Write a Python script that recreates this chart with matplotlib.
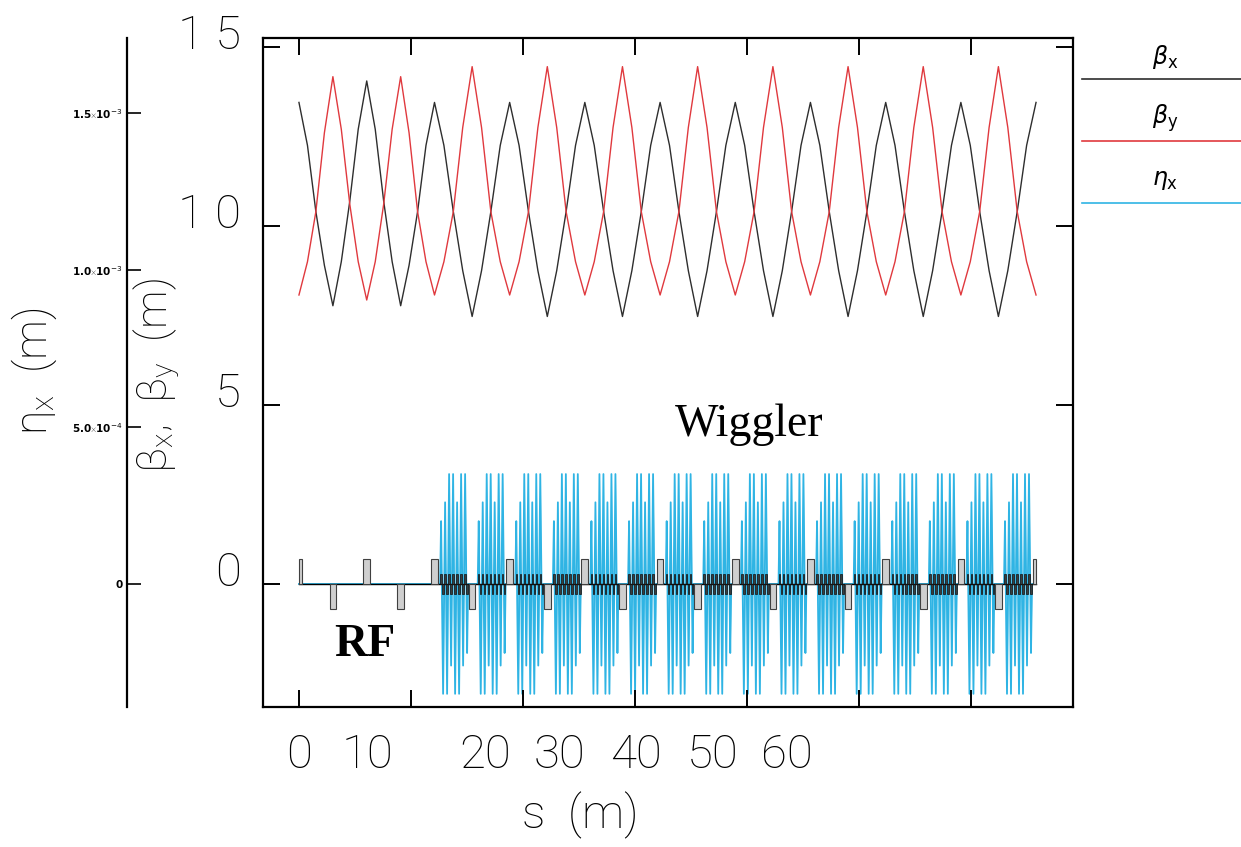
import matplotlib
matplotlib.use('Agg')
import matplotlib.pyplot as plt
from matplotlib.patches import Rectangle
from matplotlib.lines import Line2D
from matplotlib.transforms import ScaledTranslation, blended_transform_factory

# beta functions (m), sampled every quarter of a half cell
s_beta = [0.00, 0.76, 1.51, 2.27, 3.03, 3.78, 4.54, 5.29, 6.05,
          6.81, 7.56, 8.32, 9.08, 9.83, 10.59, 11.34, 12.10,
          12.94, 13.78, 14.62, 15.46, 16.30, 17.13, 17.97, 18.81,
          19.65, 20.49, 21.33, 22.17, 23.01, 23.85, 24.69, 25.52,
          26.36, 27.20, 28.04, 28.88, 29.72, 30.56, 31.40, 32.24,
          33.08, 33.92, 34.76, 35.59, 36.43, 37.27, 38.11, 38.95,
          39.79, 40.63, 41.47, 42.31, 43.15, 43.98, 44.82, 45.66,
          46.50, 47.34, 48.18, 49.02, 49.86, 50.70, 51.54, 52.38,
          53.21, 54.05, 54.89, 55.73, 56.57, 57.41, 58.25, 59.09,
          59.93, 60.77, 61.61, 62.44, 63.28, 64.12, 64.96, 65.80]
beta_x = [13.45, 12.25, 10.4, 8.9, 7.77, 9.0, 10.7, 12.7, 14.05,
          12.7, 10.7, 9.0, 7.77, 8.9, 10.4, 12.25, 13.45,
          12.25, 10.4, 8.75, 7.47, 8.75, 10.4, 12.25, 13.45,
          12.25, 10.4, 8.75, 7.47, 8.75, 10.4, 12.25, 13.45,
          12.25, 10.4, 8.75, 7.47, 8.75, 10.4, 12.25, 13.45,
          12.25, 10.4, 8.75, 7.47, 8.75, 10.4, 12.25, 13.45,
          12.25, 10.4, 8.75, 7.47, 8.75, 10.4, 12.25, 13.45,
          12.25, 10.4, 8.75, 7.47, 8.75, 10.4, 12.25, 13.45,
          12.25, 10.4, 8.75, 7.47, 8.75, 10.4, 12.25, 13.45,
          12.25, 10.4, 8.75, 7.47, 8.75, 10.4, 12.25, 13.45]
beta_y = [8.07, 9.0, 10.4, 12.6, 14.17, 12.7, 10.6, 9.0, 7.93,
          9.0, 10.6, 12.7, 14.17, 12.6, 10.4, 9.0, 8.07,
          9.0, 10.4, 12.75, 14.45, 12.75, 10.4, 9.0, 8.07,
          9.0, 10.4, 12.75, 14.45, 12.75, 10.4, 9.0, 8.07,
          9.0, 10.4, 12.75, 14.45, 12.75, 10.4, 9.0, 8.07,
          9.0, 10.4, 12.75, 14.45, 12.75, 10.4, 9.0, 8.07,
          9.0, 10.4, 12.75, 14.45, 12.75, 10.4, 9.0, 8.07,
          9.0, 10.4, 12.75, 14.45, 12.75, 10.4, 9.0, 8.07,
          9.0, 10.4, 12.75, 14.45, 12.75, 10.4, 9.0, 8.07,
          9.0, 10.4, 12.75, 14.45, 12.75, 10.4, 9.0, 8.07]

# quadrupole centres, +1 = drawn above the axis
quad_s = [0.00, 3.03, 6.05, 9.08, 12.10, 15.46, 18.81, 22.17, 25.52,
          28.88, 32.24, 35.59, 38.95, 42.31, 45.66, 49.02, 52.38,
          55.73, 59.09, 62.44, 65.80]
quad_sign = [1, -1, 1, -1, 1, -1, 1, -1, 1, -1, 1,
             -1, 1, -1, 1, -1, 1, -1, 1, -1, 1]

# dispersion swing at each wiggler pole (m), same in every wiggler
eta_poles = [0.20e-3, 0.35e-3, 0.26e-3, 0.35e-3, 0.35e-3, 0.26e-3, 0.35e-3,
             0.35e-3, 0.26e-3, 0.35e-3, 0.35e-3, 0.26e-3, 0.35e-3, 0.22e-3]
wig_from = 4   # first quad index followed by a wiggler

x_ticks = [0, 10, 20, 30, 40, 50, 60]
x_tick_text = ['0', '10', '20', '30', '40', '50', '60']
x_tick_text_at = [0, 6.1, 16.6, 23.3, 30.1, 36.9, 43.6]
y_ticks = [0, 5, 10, 15]
y_tick_text = ['0', '5', '1 0', '1 5']
eta_ticks = [0, 0.5e-3, 1.0e-3, 1.5e-3]
eta_tick_text = ['0', r'5.0$\times$10$^{\mathbf{-4}}$',
                 r'1.0$\times$10$^{\mathbf{-3}}$',
                 r'1.5$\times$10$^{\mathbf{-3}}$']

# light Roboto for plain math text, DejaVu for greek and \mathbf
plt.rcParams['mathtext.fontset'] = 'custom'
plt.rcParams['mathtext.rm'] = 'Roboto:light'
plt.rcParams['mathtext.it'] = 'DejaVu Sans:italic'
plt.rcParams['mathtext.bf'] = 'DejaVu Sans'
thin = dict(family='Roboto', weight='light')
BX, BY, ETA = '#2e2e2e', '#e0393e', '#2fb4e4'

fig = plt.figure(figsize=(12.41, 8.47), dpi=100)
W, H = 1241, 847
ax = fig.add_axes([263 / W, 1 - 707 / H, (1073 - 263) / W, (707 - 38) / H])
ax.set_xlim(-3.21, 69.1)
ax.set_ylim(-3.44, 15.25)

# dispersion on its own axis, drawn further left
ax2 = ax.twinx()
ax2.set_ylim(-0.392e-3, 1.739e-3)
ax.set_zorder(ax2.get_zorder() + 1)
ax.patch.set_visible(False)
for side in ['right', 'top', 'bottom']:
    ax2.spines[side].set_visible(False)
ax2.spines['left'].set_position(('axes', -0.168))
ax2.spines['left'].set_linewidth(1.6)
ax2.yaxis.tick_left()
ax2.set_yticks(eta_ticks)
ax2.set_yticklabels(eta_tick_text, fontsize=7.5, fontweight='bold')
ax2.tick_params(axis='y', direction='in', length=10, width=1.2, pad=3)

# eta: zero in the RF straight, oscillating inside each wiggler
half = len(eta_poles)
eta_s, eta_v = [0.0], [0.0]
for i in range(wig_from, len(quad_s) - 1):
    a, b = quad_s[i] + 0.5, quad_s[i + 1] - 0.36
    step = (b - a) / half
    eta_s.append(a)
    eta_v.append(0.0)
    for k, amp in enumerate(eta_poles):
        eta_s.append(a + (k + 0.5) * step)
        eta_v.append(amp if k % 2 == 0 else -amp)
    eta_s.append(b)
    eta_v.append(0.0)
eta_s.append(quad_s[-1])
eta_v.append(0.0)
ax2.fill_between(eta_s, eta_v, 0, color='#92dcf4', lw=0)
ax2.plot(eta_s, eta_v, color=ETA, lw=1.3)

# beam line and magnets
ax.plot([quad_s[0], quad_s[-1]], [0, 0], color='black', lw=1.0, zorder=3)
for s, sg in zip(quad_s, quad_sign):
    x0 = max(s - 0.3, quad_s[0])
    x1 = min(s + 0.3, quad_s[-1])
    ax.add_patch(Rectangle((x0, 0), x1 - x0, 0.7 * sg, facecolor='#cfcfcf',
                           edgecolor='#404040', lw=0.8, zorder=4))
for i in range(wig_from, len(quad_s) - 1):
    a, b = quad_s[i] + 0.5, quad_s[i + 1] - 0.36
    step = (b - a) / half
    for k in range(half):
        h = 0.27 if k % 2 == 0 else -0.27
        ax.add_patch(Rectangle((a + (k + 0.12) * step, 0), 0.76 * step, h,
                               facecolor='#3c3c3c', edgecolor='#111111',
                               lw=0.5, zorder=4))

ax.plot(s_beta, beta_x, color=BX, lw=1.0, zorder=5)
ax.plot(s_beta, beta_y, color=BY, lw=1.0, zorder=5)

for sp in ax.spines.values():
    sp.set_linewidth(1.6)
ax.set_xticks(x_ticks)
ax.set_xticklabels([])
ax.set_yticks(y_ticks)
ax.set_yticklabels(y_tick_text, fontsize=34, **thin)
ax.tick_params(direction='in', length=12, width=1.4, top=True, right=True)
ax.tick_params(axis='y', pad=16)
for lab in ax.get_yticklabels():
    lab.set_transform(lab.get_transform() +
                      ScaledTranslation(0, 0.15, fig.dpi_scale_trans))

below = blended_transform_factory(ax.transData, ax.transAxes)
for pos, txt in zip(x_tick_text_at, x_tick_text):
    ax.text(pos, -0.072, txt, transform=below, ha='center', va='center',
            fontsize=34, **thin)

fig.text(580 / W, 1 - 815 / H, 's  (m)', ha='center', va='center',
         fontsize=34, **thin)
fig.text(157 / W, 1 - 376 / H, r'β$_{\mathrm{x}}$,  β$_{\mathrm{y}}$  (m)',
         rotation=90, ha='center', va='center', fontsize=31, **thin)
fig.text(34 / W, 1 - 371 / H, r'η$_{\mathrm{x}}$  (m)', rotation=90,
         ha='center', va='center', fontsize=32, **thin)

ax.text(40.2, 4.45, 'Wiggler', family='Liberation Serif',
        fontsize=33, ha='center', va='center')
ax.text(5.9, -1.7, 'RF', family='Liberation Serif', fontweight='bold',
        fontsize=33, ha='center', va='center')

# legend to the right of the frame
for y_txt, y_line, lab, col in [(57, 79, r'$\beta_{\mathbf{x}}$', BX),
                                (118, 141, r'$\beta_{\mathbf{y}}$', BY),
                                (180, 203, r'$\eta_{\mathbf{x}}$', ETA)]:
    fig.text(1165 / W, 1 - y_txt / H, lab, ha='center', va='center',
             fontsize=17)
    fig.add_artist(Line2D([1082 / W, 1.0], [1 - y_line / H] * 2,
                          color=col, lw=1.2, transform=fig.transFigure))

fig.savefig('out.png', dpi=100)
